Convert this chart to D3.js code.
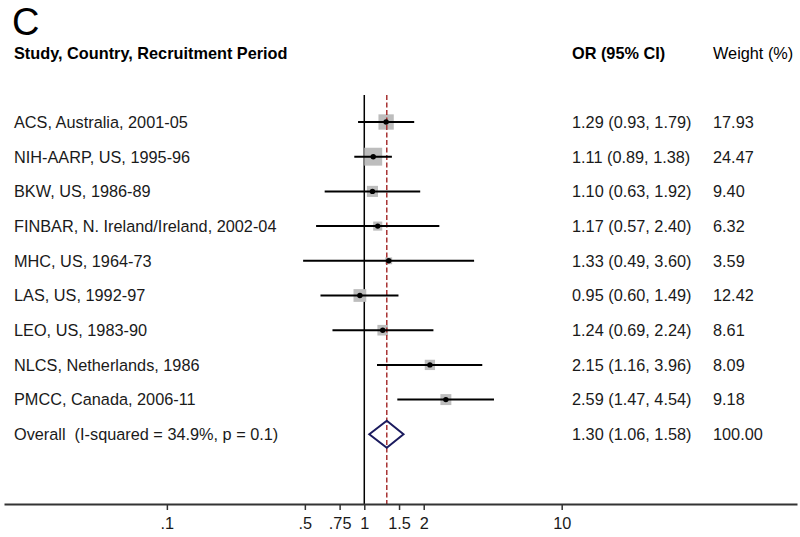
<!DOCTYPE html>
<html>
<head>
<meta charset="utf-8">
<script src="https://cdn.jsdelivr.net/npm/d3@7"></script>
<style>
  html, body { margin: 0; padding: 0; background: #fff; }
  svg { display: block; font-family: "Liberation Sans", Arial, sans-serif; }
  text { white-space: pre; }
</style>
</head>
<body>
<svg id="chart" width="800" height="537"></svg>
<script>
const studies = ["ACS, Australia, 2001-05", "NIH-AARP, US, 1995-96", "BKW, US, 1986-89",
  "FINBAR, N. Ireland/Ireland, 2002-04", "MHC, US, 1964-73", "LAS, US, 1992-97",
  "LEO, US, 1983-90", "NLCS, Netherlands, 1986", "PMCC, Canada, 2006-11"];
const orValues = [1.29, 1.11, 1.10, 1.17, 1.33, 0.95, 1.24, 2.15, 2.59];
const ciLow = [0.93, 0.89, 0.63, 0.57, 0.49, 0.60, 0.69, 1.16, 1.47];
const ciHigh = [1.79, 1.38, 1.92, 2.40, 3.60, 1.49, 2.24, 3.96, 4.54];
const weights = [17.93, 24.47, 9.40, 6.32, 3.59, 12.42, 8.61, 8.09, 9.18];
const overallLabel = "Overall  (I-squared = 34.9%, p = 0.1)";
const overall = { or: 1.30, lo: 1.06, hi: 1.58, weight: 100.00 };
const tickValues = [0.1, 0.5, 0.75, 1, 1.5, 2, 10];
const tickLabels = [".1", ".5", ".75", "1", "1.5", "2", "10"];

const fmt = d3.format(".2f");
const svg = d3.select("#chart");
const FS = 16.3;

const x = d3.scaleLog().domain([0.01496, 155.6]).range([4, 797]);
const rows = d3.range(studies.length + 1);
const y = d3.scalePoint().domain(rows).range([122, 434.3]);
const boxSize = d3.scaleSqrt().domain([0, 24.47]).range([0, 17.9]);

const axisY = 504;
const topY = 95;

// Title and headers
svg.append("text").attr("x", 12).attr("y", 35).attr("font-size", 38).attr("fill", "#000").text("C");
svg.append("text").attr("x", 14).attr("y", 59).attr("font-size", FS).attr("font-weight", "bold").attr("fill", "#000")
  .text("Study, Country, Recruitment Period");
svg.append("text").attr("x", 572).attr("y", 59).attr("font-size", FS).attr("font-weight", "bold").attr("fill", "#000")
  .text("OR (95% CI)");
svg.append("text").attr("x", 713).attr("y", 59).attr("font-size", FS).attr("font-weight", "normal").attr("fill", "#000")
  .text("Weight (%)");

// Null line at 1
svg.append("line").attr("x1", x(1)).attr("x2", x(1)).attr("y1", topY).attr("y2", axisY)
  .attr("stroke", "#000").attr("stroke-width", 1.5);

// Boxes
const g = svg.append("g");
studies.forEach((s, i) => {
  const cy = y(i);
  const sz = boxSize(weights[i]);
  g.append("rect").attr("x", x(orValues[i]) - sz / 2).attr("y", cy - sz / 2)
    .attr("width", sz).attr("height", sz).attr("fill", "#bdbdbd");
});

// Overall dashed line
svg.append("line").attr("x1", x(overall.or)).attr("x2", x(overall.or)).attr("y1", topY).attr("y2", axisY)
  .attr("stroke", "#a83232").attr("stroke-width", 1.5).attr("stroke-dasharray", "5,2.5");

// CIs and points
studies.forEach((s, i) => {
  const cy = y(i);
  svg.append("line").attr("x1", x(ciLow[i])).attr("x2", x(ciHigh[i])).attr("y1", cy).attr("y2", cy)
    .attr("stroke", "#000").attr("stroke-width", 2);
  svg.append("circle").attr("cx", x(orValues[i])).attr("cy", cy).attr("r", 2.7).attr("fill", "#000");
  svg.append("text").attr("x", 14).attr("y", cy + 5.8).attr("font-size", FS).attr("fill", "#1a1a1a").text(s);
  svg.append("text").attr("x", 572).attr("y", cy + 5.8).attr("font-size", FS).attr("fill", "#1a1a1a")
    .text(`${fmt(orValues[i])} (${fmt(ciLow[i])}, ${fmt(ciHigh[i])})`);
  svg.append("text").attr("x", 713).attr("y", cy + 5.8).attr("font-size", FS).attr("fill", "#1a1a1a")
    .text(fmt(weights[i]));
});

// Overall diamond
const oy = y(studies.length);
svg.append("path")
  .attr("d", `M${x(overall.lo)},${oy} L${x(overall.or)},${oy - 13.5} L${x(overall.hi)},${oy} L${x(overall.or)},${oy + 13.5} Z`)
  .attr("fill", "none").attr("stroke", "#1b1b5e").attr("stroke-width", 2);
svg.append("text").attr("x", 14).attr("y", oy + 5.8).attr("font-size", FS).attr("fill", "#1a1a1a").text(overallLabel);
svg.append("text").attr("x", 572).attr("y", oy + 5.8).attr("font-size", FS).attr("fill", "#1a1a1a")
  .text(`${fmt(overall.or)} (${fmt(overall.lo)}, ${fmt(overall.hi)})`);
svg.append("text").attr("x", 713).attr("y", oy + 5.8).attr("font-size", FS).attr("fill", "#1a1a1a")
  .text(fmt(overall.weight));

// Axis
const axis = d3.axisBottom(x).tickValues(tickValues)
  .tickFormat((d, i) => tickLabels[i]).tickSize(6).tickSizeOuter(0);
const ax = svg.append("g").attr("transform", `translate(0,${axisY})`).call(axis);
ax.select(".domain").attr("stroke", "#333").attr("stroke-width", 2);
ax.selectAll(".tick line").attr("stroke", "#333").attr("stroke-width", 1.5);
ax.selectAll(".tick text").attr("font-size", FS).attr("fill", "#1a1a1a").attr("dy", "0").attr("y", 25)
  .attr("font-family", "\"Liberation Sans\", Arial, sans-serif");
</script>
</body>
</html>
